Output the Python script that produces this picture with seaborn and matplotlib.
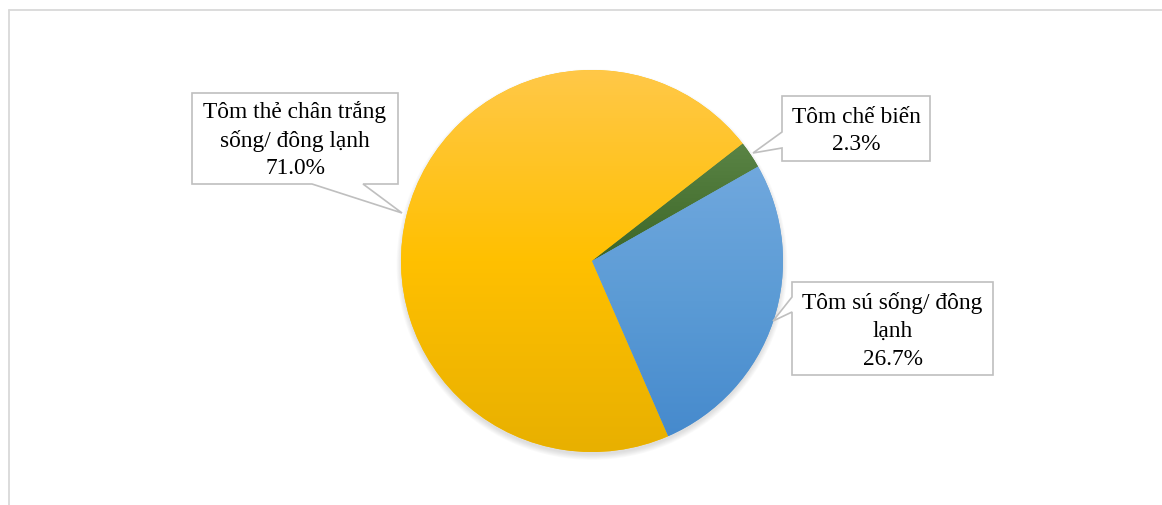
import numpy as np
import matplotlib
matplotlib.use("Agg")
import matplotlib.pyplot as plt
from matplotlib.patches import Polygon, Circle
from matplotlib.lines import Line2D
import seaborn as sns

# ---------------- data ----------------
categories = ["Tôm thẻ chân trắng sống/ đông lạnh", "Tôm chế biến", "Tôm sú sống/ đông lạnh"]
label_lines = ["Tôm thẻ chân trắng\nsống/ đông lạnh", "Tôm chế biến", "Tôm sú sống/ đông\nlạnh"]
shares = [71.0, 2.3, 26.7]

# gradient colours per slice (top, middle, bottom)
gradients = [
    ["#FFC848", "#FFC000", "#E8B000"],
    ["#5A8445", "#4B7536", "#3C6626"],
    ["#70A8DE", "#5B9BD5", "#468ACD"],
]

sns.set_style("white")
plt.rcParams["font.family"] = ["Liberation Serif", "DejaVu Serif"]

W, H = 1162, 506
fig = plt.figure(figsize=(W / 100, H / 100), dpi=100)
ax = fig.add_axes([0, 0, 1, 1])

def Y(y):
    return H - y

cx, cy, R = 592, Y(262), 191

# soft shadow (mostly below the pie)
for i in range(7):
    ax.add_patch(Circle((cx, cy - 3.5), R - 1 + i * 0.9, facecolor="#808080",
                        edgecolor="none", alpha=0.04, zorder=1))

wedges, _ = ax.pie(shares, startangle=-66.5, counterclock=False,
                   center=(cx, cy), radius=R,
                   colors=[g[1] for g in gradients],
                   wedgeprops=dict(linewidth=0, zorder=2), frame=True)

for w, g in zip(wedges, gradients):
    ext = w.get_path().get_extents()
    cmap = sns.blend_palette(g, as_cmap=True)
    grad = np.linspace(0, 1, 256).reshape(-1, 1)
    im = ax.imshow(grad, cmap=cmap, aspect="auto",
                   extent=(ext.x0, ext.x1, ext.y0, ext.y1), origin="upper",
                   zorder=3, interpolation="bilinear")
    im.set_clip_path(w)

# ---------------- callout labels ----------------
edge = "#BFBFBF"
fs = 16.8

def callout(verts, text_xy, text):
    poly = Polygon([(x, Y(y)) for x, y in verts], closed=True, facecolor="white",
                   edgecolor=edge, linewidth=1.2, zorder=5)
    ax.add_patch(poly)
    ax.text(text_xy[0], Y(text_xy[1]), text, ha="center", va="center",
            fontsize=fs, color="black", linespacing=1.42, zorder=6)

# label 1 (pointer from bottom edge)
x0, x1, y0, y1 = 192, 398, 94, 185
callout([(x0, y0), (x1, y0), (x1, y1), (363, y1), (402, 214), (312, y1), (x0, y1)],
        ((x0 + x1) / 2, 140), f"{label_lines[0]}\n{shares[0]:.1f}%")

# label 2 (pointer from left edge)
x0, x1, y0, y1 = 782, 930, 97, 162
callout([(x0, y0), (x1, y0), (x1, y1), (x0, y1), (x0, 149), (753, 154), (x0, 133)],
        ((x0 + x1) / 2, 131), f"{label_lines[1]}\n{shares[1]:.1f}%")

# label 3 (pointer from left edge)
x0, x1, y0, y1 = 792, 993, 283, 376
callout([(x0, y0), (x1, y0), (x1, y1), (x0, y1), (x0, 313), (773, 322), (x0, 298)],
        ((x0 + x1) / 2, 331), f"{label_lines[2]}\n{shares[2]:.1f}%")

# chart area border (top and left visible)
ax.add_line(Line2D([8.5, W], [Y(10.5), Y(10.5)], color="#D9D9D9", lw=1.3, zorder=0))
ax.add_line(Line2D([8.5, 8.5], [Y(10.5), 0], color="#D9D9D9", lw=1.3, zorder=0))

ax.set_xlim(0, W)
ax.set_ylim(0, H)
ax.set_aspect("equal", adjustable="box")
ax.axis("off")

fig.savefig("out.png", dpi=100)
